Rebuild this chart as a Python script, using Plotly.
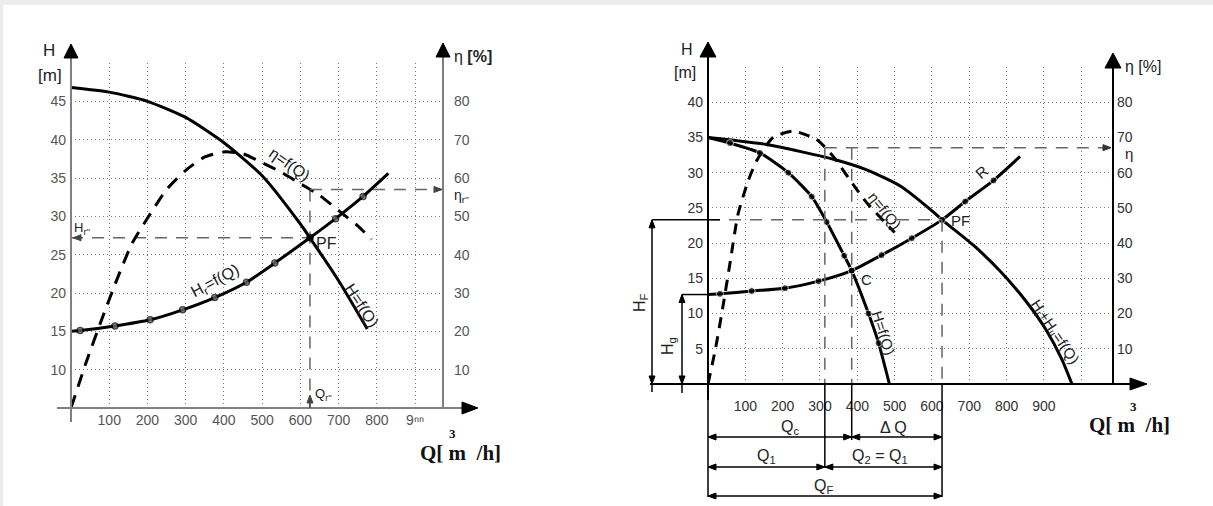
import plotly.graph_objects as go

W, HGT = 1213, 506
SANS = "Liberation Sans, Arial, sans-serif"
SERIF = "Liberation Serif, Times New Roman, serif"

# ---------------- LEFT CHART DATA ----------------
L_PUMP_Q = [0, 100, 200, 300, 400, 500, 600, 625, 700, 775]
L_PUMP_H = [46.8, 46.2, 45.0, 42.9, 39.6, 35.3, 29.0, 27.2, 21.6, 15.3]
L_SYS_Q = [0, 24, 115, 207, 292, 376, 459, 533, 625, 692, 764, 830]
L_SYS_H = [15.0, 15.1, 15.7, 16.5, 17.8, 19.4, 21.4, 23.9, 27.2, 29.7, 32.6, 35.6]
L_EFF_Q = [0, 40, 80, 120, 160, 200, 250, 300, 350, 400, 450, 500, 550, 600, 650, 700, 750, 786]
L_EFF = [0, 12, 23, 33.5, 43, 49.5, 57, 62, 65.5, 66.8, 66.3, 64, 61.5, 58.5, 55.5, 51.5, 47.5, 44]
L_PF_Q, L_PF_H, L_PF_ETA = 625, 27.2, 57
L_Q_TICKS = [100, 200, 300, 400, 500, 600, 700, 800, 900]
L_Q_LABELS = ["100", "200", "300", "400", "500", "600", "700", "800", "9ⁿⁿ"]
L_H_TICKS = [10, 15, 20, 25, 30, 35, 40, 45, 50]
L_H_LABELS = ["10", "15", "20", "25", "30", "35", "40", "45", ""]
L_ETA_TICKS = [10, 20, 30, 40, 50, 60, 70, 80]

# ---------------- RIGHT CHART DATA ----------------
R_PUMP1_Q = [0, 59, 139, 215, 278, 318, 365, 385, 430, 457, 486]
R_PUMP1_H = [35.0, 34.2, 32.8, 30.0, 26.6, 23.0, 18.2, 16.1, 10.0, 5.8, 0]
R_PUMP2_Q = [0, 157, 336, 425, 515, 604, 627, 711, 783, 854, 908, 948, 975]
R_PUMP2_H = [35.0, 34.0, 31.9, 30.4, 28.1, 24.4, 23.3, 19.7, 16.0, 11.6, 7.5, 3.5, 0]
R_SYS_Q = [0, 32, 117, 206, 296, 385, 465, 546, 627, 689, 765, 836]
R_SYS_H = [12.7, 12.8, 13.2, 13.6, 14.6, 16.1, 18.3, 20.7, 23.3, 25.9, 28.9, 32.3]
R_EFF_Q = [0, 20, 40, 60, 80, 107, 131, 174, 228, 291, 335, 389, 425, 500]
R_EFF = [0, 10, 22, 35, 48, 57.5, 63.5, 70, 71.8, 69.4, 64.7, 56.6, 51.5, 43]
R_PF_Q, R_PF_H = 627, 23.3
R_C_Q, R_C_H = 385, 16.1
R_Q1 = 313
R_ETA_OP = 67.1
R_HG = 12.7
R_Q_TICKS = [100, 200, 300, 400, 500, 600, 700, 800, 900, 1000]
R_Q_LABELS = ["100", "200", "300", "400", "500", "600", "700", "800", "900", ""]
R_H_TICKS = [5, 10, 15, 20, 25, 30, 35, 40, 45]
R_H_LABELS = ["5", "10", "15", "20", "25", "30", "35", "40", ""]
R_ETA_TICKS = [10, 20, 30, 40, 50, 60, 70, 80]

# ---------------- geometry (pixels) ----------------
LX0, LX1, LYB, LYT = 71, 443, 408, 63
L_QMAX, L_HMIN, L_HMAX = 973.0, 5, 50
RX0, RX1, RYB, RYT = 708, 1113, 384, 67
R_QMAX, R_HMIN, R_HMAX = 1085.0, 0, 45


def px(x):
    return x / W


def py(y):
    return 1 - y / HGT


def lx(q):
    return LX0 + q * (LX1 - LX0) / L_QMAX


def ly(h):
    return LYB - (h - L_HMIN) * (LYB - LYT) / (L_HMAX - L_HMIN)


def rx(q):
    return RX0 + q * (RX1 - RX0) / R_QMAX


def ry(h):
    return RYB - (h - R_HMIN) * (RYB - RYT) / (R_HMAX - R_HMIN)


shapes = []
annotations = []


def seg(x0, y0, x1, y1, color="black", width=2, dash="solid"):
    shapes.append(dict(type="line", xref="paper", yref="paper",
                       x0=px(x0), y0=py(y0), x1=px(x1), y1=py(y1),
                       line=dict(color=color, width=width, dash=dash), layer="above"))


def tri(tx, ty, d, length=14, hw=7, color="black"):
    if d == "up":
        pts = [(tx, ty), (tx - hw, ty + length), (tx + hw, ty + length)]
    elif d == "down":
        pts = [(tx, ty), (tx - hw, ty - length), (tx + hw, ty - length)]
    elif d == "left":
        pts = [(tx, ty), (tx + length, ty - hw), (tx + length, ty + hw)]
    else:
        pts = [(tx, ty), (tx - length, ty - hw), (tx - length, ty + hw)]
    path = "M " + " L ".join(f"{px(a):.5f},{py(b):.5f}" for a, b in pts) + " Z"
    shapes.append(dict(type="path", xref="paper", yref="paper", path=path,
                       fillcolor=color, line=dict(color=color, width=1), layer="above"))


def lab(text, x, y, size=16, angle=0, color="#222", family=SANS, xanchor="center"):
    annotations.append(dict(text=text, x=px(x), y=py(y), xref="paper", yref="paper",
                            showarrow=False, textangle=angle, xanchor=xanchor, yanchor="middle",
                            font=dict(size=size, color=color, family=family)))


fig = go.Figure()

GUIDE = dict(color="#666", width=1.5, dash="12px,9px")

# ---------- left traces ----------
fig.add_trace(go.Scatter(x=L_PUMP_Q, y=L_PUMP_H, mode="lines", xaxis="x", yaxis="y",
                         line=dict(color="black", width=3, shape="spline", smoothing=0.6)))
fig.add_trace(go.Scatter(x=L_EFF_Q, y=L_EFF, mode="lines", xaxis="x", yaxis="y3",
                         line=dict(color="black", width=3, dash="13px,9px", shape="spline", smoothing=0.6)))
lsys_sizes = [0] + [6] * (len(L_SYS_Q) - 2) + [0]
fig.add_trace(go.Scatter(x=L_SYS_Q, y=L_SYS_H, mode="lines+markers", xaxis="x", yaxis="y",
                         line=dict(color="black", width=3, shape="spline", smoothing=0.6),
                         marker=dict(size=lsys_sizes, color="#777", line=dict(color="black", width=1.5))))
# guides left
fig.add_trace(go.Scatter(x=[0, L_PF_Q], y=[L_PF_H, L_PF_H], mode="lines", xaxis="x", yaxis="y", line=GUIDE))
fig.add_trace(go.Scatter(x=[L_PF_Q, L_PF_Q], y=[(L_PF_ETA + 10) / 2, L_HMIN], mode="lines",
                         xaxis="x", yaxis="y", line=GUIDE))
fig.add_trace(go.Scatter(x=[L_PF_Q, L_QMAX], y=[L_PF_ETA, L_PF_ETA], mode="lines",
                         xaxis="x", yaxis="y3", line=GUIDE))
fig.add_trace(go.Scatter(x=[L_PF_Q], y=[L_PF_H], mode="markers", xaxis="x", yaxis="y",
                         marker=dict(size=7, color="black")))

# ---------- right traces ----------
fig.add_trace(go.Scatter(x=R_PUMP2_Q, y=R_PUMP2_H, mode="lines", xaxis="x2", yaxis="y2",
                         line=dict(color="black", width=3, shape="spline", smoothing=0.6)))
rp1_sizes = [0] + [7] * (len(R_PUMP1_Q) - 2) + [0]
fig.add_trace(go.Scatter(x=R_PUMP1_Q, y=R_PUMP1_H, mode="lines+markers", xaxis="x2", yaxis="y2",
                         line=dict(color="black", width=3, shape="spline", smoothing=0.6),
                         marker=dict(size=rp1_sizes, color="black")))
rsys_sizes = [0] + [7] * (len(R_SYS_Q) - 2) + [0]
fig.add_trace(go.Scatter(x=R_SYS_Q, y=R_SYS_H, mode="lines+markers", xaxis="x2", yaxis="y2",
                         line=dict(color="black", width=3, shape="spline", smoothing=0.6),
                         marker=dict(size=rsys_sizes, color="black")))
fig.add_trace(go.Scatter(x=R_EFF_Q, y=R_EFF, mode="lines", xaxis="x2", yaxis="y4",
                         line=dict(color="black", width=3, dash="11px,8px", shape="spline", smoothing=0.6)))
# guides right
fig.add_trace(go.Scatter(x=[0, R_PF_Q], y=[R_PF_H, R_PF_H], mode="lines", xaxis="x2", yaxis="y2", line=GUIDE))
fig.add_trace(go.Scatter(x=[R_Q1, R_QMAX], y=[R_ETA_OP, R_ETA_OP], mode="lines", xaxis="x2", yaxis="y4", line=GUIDE))
fig.add_trace(go.Scatter(x=[R_Q1, R_Q1], y=[R_ETA_OP / 2, 0], mode="lines", xaxis="x2", yaxis="y2", line=GUIDE))
fig.add_trace(go.Scatter(x=[R_C_Q, R_C_Q], y=[R_ETA_OP / 2, 0], mode="lines", xaxis="x2", yaxis="y2", line=GUIDE))
fig.add_trace(go.Scatter(x=[R_PF_Q, R_PF_Q], y=[R_PF_H, 0], mode="lines", xaxis="x2", yaxis="y2", line=GUIDE))

# ---------- page edge ----------
shapes.append(dict(type="rect", xref="paper", yref="paper", x0=0, x1=1, y0=py(5), y1=1,
                   fillcolor="#ececec", line=dict(width=0), layer="below"))
shapes.append(dict(type="rect", xref="paper", yref="paper", x0=0, x1=px(3), y0=0, y1=1,
                   fillcolor="#ececec", line=dict(width=0), layer="below"))

# ---------- left axes ----------
LG = "#808080"
seg(LX0, 422, LX0, 56, LG, 2)
tri(LX0, 44, "up", 14, 7)
seg(LX1, LYB, LX1, 55, LG, 2)
tri(LX1, 43, "up", 14, 7)
seg(57, LYB, 464, LYB, LG, 2)
tri(478, LYB, "right", 16, 6)
# small guide arrows
tri(LX0 + 2, ly(L_PF_H), "left", 8, 3, "#444")
tri(LX1 - 1, ly((L_PF_ETA + 10) / 2), "right", 8, 3, "#444")
tri(lx(L_PF_Q), 395, "up", 8, 3, "#444")
seg(lx(L_PF_Q), 400, lx(L_PF_Q), LYB, "#444", 1.5)

# ---------- right axes ----------
seg(RX0, 400, RX0, 55, "black", 2)
tri(RX0, 42, "up", 15, 8)
seg(RX1, RYB, RX1, 66, "black", 2)
tri(RX1, 53, "up", 15, 8)
seg(650, RYB, 1132, RYB, "black", 2)
tri(1147, RYB, "right", 17, 6)
tri(RX1 - 2, ry(R_ETA_OP / 2), "right", 8, 3, "#333")

# H_F and H_g dimension lines
seg(652, ry(R_PF_H), 720, ry(R_PF_H), "black", 1.5)
seg(652, ry(R_PF_H), 652, 392, "black", 1.5)
tri(652, ry(R_PF_H), "up", 8, 3)
tri(652, RYB, "down", 8, 3)
seg(682, ry(R_HG), RX0, ry(R_HG), "black", 1.5)
seg(682, ry(R_HG), 682, 393, "black", 1.5)
tri(682, ry(R_HG), "up", 8, 3)
tri(682, RYB, "down", 8, 3)

# Q dimension lines
seg(RX0, RYB, RX0, 497, "black", 1.5)
seg(rx(R_Q1), RYB, rx(R_Q1), 467, "black", 1.5)
seg(rx(R_C_Q), RYB, rx(R_C_Q), 440, "black", 1.5)
seg(rx(R_PF_Q), RYB, rx(R_PF_Q), 497, "black", 1.5)


def dim(xa, xb, y):
    seg(xa, y, xb, y, "black", 1.5)
    tri(xa, y, "left", 8, 3)
    tri(xb, y, "right", 8, 3)


dim(RX0, rx(R_C_Q), 437)
dim(rx(R_C_Q), rx(R_PF_Q), 437)
dim(RX0, rx(R_Q1), 467)
dim(rx(R_Q1), rx(R_PF_Q), 467)
dim(RX0, rx(R_PF_Q), 496)

# ---------- text labels ----------
lab("H", 49, 51, 17)
lab("[m]", 50, 75, 17)
lab("η <b>[%]</b>", 452, 56, 16, xanchor="left")
lab("η=f(Q)", 290, 164, 16, 35)
lab("H=f(Q)", 362, 305, 16, 57)
lab("H<sub>r</sub>=f(Q)", 215, 281, 16, -28)
lab("PF", 326, 243, 16)
lab("H<sub>r''</sub>", 82, 228, 13)
lab("Q<sub>r''</sub>", 323, 394, 13)
lab("η<sub>r''</sub>", 461, 196, 14)
lab("<b>Q[\u00a0m\u00a0\u00a0/h]</b>", 418, 453, 21, family=SERIF, color="#111", xanchor="left")
lab("<b>3</b>", 452, 433, 13, family=SERIF, color="#111")

lab("H", 687, 50, 16)
lab("[m]", 685, 72, 16)
lab("η [%]", 1123, 66, 16, xanchor="left")
lab("η", 1123, 153, 15, xanchor="left")
lab("η=f(Q)", 885, 210, 15, 52)
lab("H=f(Q)", 884, 333, 15, 72)
lab("H<sub>I</sub>+H<sub>II</sub>=f(Q)", 1055, 332, 15, 56)
lab("PF", 960, 221, 15)
lab("C", 866, 279, 15)
lab("R", 981, 172, 15, -40)
lab("H<sub>F</sub>", 640, 303, 16, -90)
lab("H<sub>g</sub>", 668, 346, 16, -90)
lab("Q<sub>c</sub>", 790, 427, 16)
lab("Δ Q", 893, 427, 16)
lab("Q<sub>1</sub>", 766, 456, 16)
lab("Q<sub>2</sub> = Q<sub>1</sub>", 880, 456, 16)
lab("Q<sub>F</sub>", 823, 486, 16)
lab("<b>Q[\u00a0m\u00a0\u00a0/h]</b>", 1087, 425, 21, family=SERIF, color="#111", xanchor="left")
lab("<b>3</b>", 1133, 406, 13, family=SERIF, color="#111")

GRID = dict(showgrid=True, gridcolor="#777", gridwidth=1, griddash="1px,3px",
            zeroline=False, showline=False, ticks="")

fig.update_layout(
    width=W, height=HGT, margin=dict(l=0, r=0, t=0, b=0),
    paper_bgcolor="white", plot_bgcolor="rgba(0,0,0,0)", showlegend=False,
    xaxis=dict(domain=[px(LX0), px(LX1)], range=[0, L_QMAX], anchor="y",
               tickvals=L_Q_TICKS, ticktext=L_Q_LABELS, ticklabelstandoff=2,
               tickfont=dict(size=14, color="#555", family=SANS), **GRID),
    yaxis=dict(domain=[py(LYB), py(LYT)], range=[L_HMIN, L_HMAX], anchor="x",
               tickvals=L_H_TICKS, ticktext=L_H_LABELS, ticklabelstandoff=4,
               tickfont=dict(size=14, color="#555", family=SANS), **GRID),
    yaxis3=dict(overlaying="y", anchor="free", position=px(LX1), side="right",
                range=[0, 90], tickvals=L_ETA_TICKS, showgrid=False, zeroline=False,
                showline=False, ticks="", ticklabelstandoff=10,
                tickfont=dict(size=14, color="#555", family=SANS)),
    xaxis2=dict(domain=[px(RX0), px(RX1)], range=[0, R_QMAX], anchor="y2",
                tickvals=R_Q_TICKS, ticktext=R_Q_LABELS, ticklabelstandoff=12,
                tickfont=dict(size=14, color="#333", family=SANS), **GRID),
    yaxis2=dict(domain=[py(RYB), py(RYT)], range=[R_HMIN, R_HMAX], anchor="x2",
                tickvals=R_H_TICKS, ticktext=R_H_LABELS, ticklabelstandoff=4,
                tickfont=dict(size=14, color="#333", family=SANS), **GRID),
    yaxis4=dict(overlaying="y2", anchor="free", position=px(RX1), side="right",
                range=[0, 90], tickvals=R_ETA_TICKS, showgrid=False, zeroline=False,
                showline=False, ticks="", ticklabelstandoff=3,
                tickfont=dict(size=14, color="#333", family=SANS)),
    shapes=shapes, annotations=annotations,
)

fig.write_html("out.html", config={"displayModeBar": False},
               post_script="document.body.style.margin='0';")
